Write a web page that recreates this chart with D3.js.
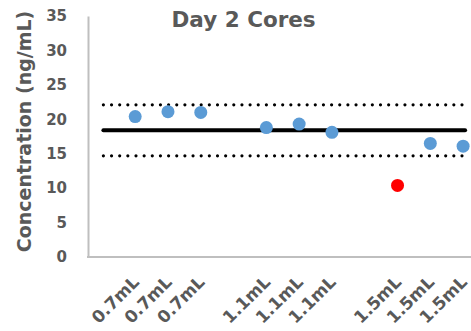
<!DOCTYPE html>
<html>
<head>
<meta charset="utf-8">
<script src="https://cdn.jsdelivr.net/npm/d3@7"></script>
<style>
  html, body { margin: 0; padding: 0; background: #fff; }
  svg { display: block; }
  text { font-family: "DejaVu Sans", sans-serif; font-weight: bold; fill: #595959; }
</style>
</head>
<body>
<svg id="chart" width="471" height="331"></svg>
<script>
// Category slots: blank slots separate the three volume groups
const categories = ["", "0.7mL", "0.7mL", "0.7mL", "", "1.1mL", "1.1mL", "1.1mL", "", "1.5mL", "1.5mL", "1.5mL"];
// Measured concentrations (ng/mL); null where a slot is empty
const concentration = [null, 20.4, 21.1, 21.0, null, 18.8, 19.3, 18.1, null, null, 16.5, 16.1];
// Outlier sample, drawn in red
const outlier = [null, null, null, null, null, null, null, null, null, 10.4, null, null];
// Reference lines: mean and upper/lower limits
const meanValue = 18.4;
const upperLimit = 22.1;
const lowerLimit = 14.7;
const yTicks = [0, 5, 10, 15, 20, 25, 30, 35];
const title = "Day 2 Cores";
const yTitle = "Concentration (ng/mL)";

const svg = d3.select("#chart");
const axisX = 88, plotTop = 16, plotBottom = 257;

const y = d3.scaleLinear().domain([0, 35]).range([plotBottom, plotTop]);
const band = d3.scaleBand().domain(d3.range(categories.length)).range([86, 479.5]);
const cx = i => band(i) + band.bandwidth() / 2;

// Axes
const yAxis = svg.append("g")
  .attr("transform", `translate(${axisX},0)`)
  .call(d3.axisLeft(y).tickValues(yTicks).tickSize(0).tickSizeOuter(0).tickPadding(21));
yAxis.select(".domain").attr("stroke", "#bfbfbf").attr("stroke-width", 2);
yAxis.selectAll("text").style("font-size", "15px").style("font-family", "DejaVu Sans").attr("fill", "#595959");

svg.append("line")
  .attr("x1", axisX - 1).attr("x2", band.range()[1])
  .attr("y1", plotBottom).attr("y2", plotBottom)
  .attr("stroke", "#bfbfbf").attr("stroke-width", 2);

// Category labels
svg.append("g").selectAll("text")
  .data(categories.map((c, i) => ({ c, i })).filter(d => d.c !== ""))
  .join("text")
  .attr("transform", d => `translate(${cx(d.i) + 5},283) rotate(-45)`)
  .attr("text-anchor", "end")
  .style("font-size", "17px")
  .text(d => d.c);

// Reference lines across all slots
const x0 = cx(0), x1 = cx(categories.length - 1);
svg.append("line")
  .attr("x1", x0 + 1).attr("x2", x1 + 2)
  .attr("y1", y(meanValue)).attr("y2", y(meanValue))
  .attr("stroke", "#000").attr("stroke-width", 4).attr("stroke-linecap", "round");
[upperLimit, lowerLimit].forEach(v => {
  svg.append("line")
    .attr("x1", x0 + 1).attr("x2", x1 + 3)
    .attr("y1", y(v)).attr("y2", y(v))
    .attr("stroke", "#000").attr("stroke-width", 3.2)
    .attr("stroke-linecap", "round").attr("stroke-dasharray", "0 8.15");
});

// Sample points
svg.append("g").selectAll("circle")
  .data(concentration.map((v, i) => ({ v, i })).filter(d => d.v !== null))
  .join("circle")
  .attr("cx", d => cx(d.i)).attr("cy", d => y(d.v))
  .attr("r", 6.5).attr("fill", "#5b9bd5");

svg.append("g").selectAll("circle")
  .data(outlier.map((v, i) => ({ v, i })).filter(d => d.v !== null))
  .join("circle")
  .attr("cx", d => cx(d.i)).attr("cy", d => y(d.v))
  .attr("r", 6.5).attr("fill", "#ff0000");

// Titles
svg.append("text")
  .attr("x", 171.5).attr("y", 26.5)
  .style("font-size", "21.5px")
  .text(title);

svg.append("text")
  .attr("transform", `translate(31,${(plotTop + plotBottom) / 2 - 5}) rotate(-90)`)
  .attr("text-anchor", "middle")
  .style("font-size", "19px")
  .text(yTitle);
</script>
</body>
</html>
